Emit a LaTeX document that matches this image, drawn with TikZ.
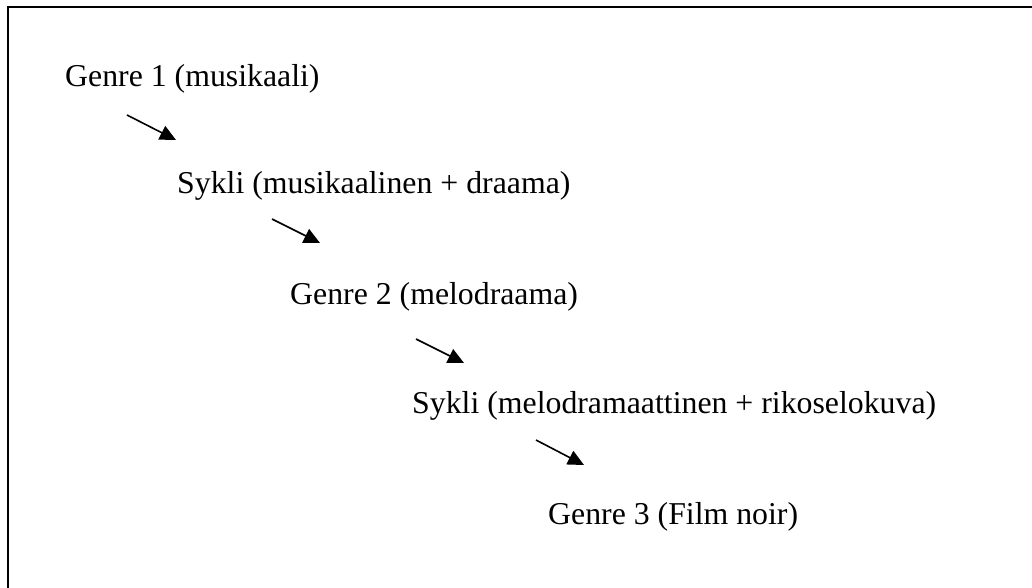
\documentclass[tikz,border=0pt]{standalone}
\usepackage{fontspec}
\setmainfont{Liberation Serif}
\usetikzlibrary{arrows.meta}
\tikzset{
  lbl/.style={anchor=base west, inner sep=0pt, font=\fontsize{31.8}{38}\selectfont},
  flow/.style={line width=1.6pt, -{Triangle[length=16pt,width=15pt]}},
  frame/.style={line width=1.6pt}
}
\begin{document}
\begin{tikzpicture}[x=1pt,y=-1pt]
\useasboundingbox (0,0) rectangle (1032,587);
\draw[frame] (8,590) -- (8,7) -- (1035,7);
\node[lbl] (g1) at (65,86) {Genre 1 (musikaali)};
\node[lbl] (s1) at (177,193) {Sykli (musikaalinen + draama)};
\node[lbl] (g2) at (290,304) {Genre 2 (melodraama)};
\node[lbl] (s2) at (412,413) {Sykli (melodramaattinen + rikoselokuva)};
\node[lbl] (g3) at (548,524) {Genre 3 (Film noir)};
\coordinate (a1s) at (127,115); \coordinate (a1e) at (176,140);
\coordinate (a2s) at (272,219); \coordinate (a2e) at (320,243);
\coordinate (a3s) at (416,339); \coordinate (a3e) at (464,363);
\coordinate (a4s) at (536,440); \coordinate (a4e) at (584,465);
\draw[flow] (a1s) -- (a1e);
\draw[flow] (a2s) -- (a2e);
\draw[flow] (a3s) -- (a3e);
\draw[flow] (a4s) -- (a4e);
\end{tikzpicture}
\end{document}
